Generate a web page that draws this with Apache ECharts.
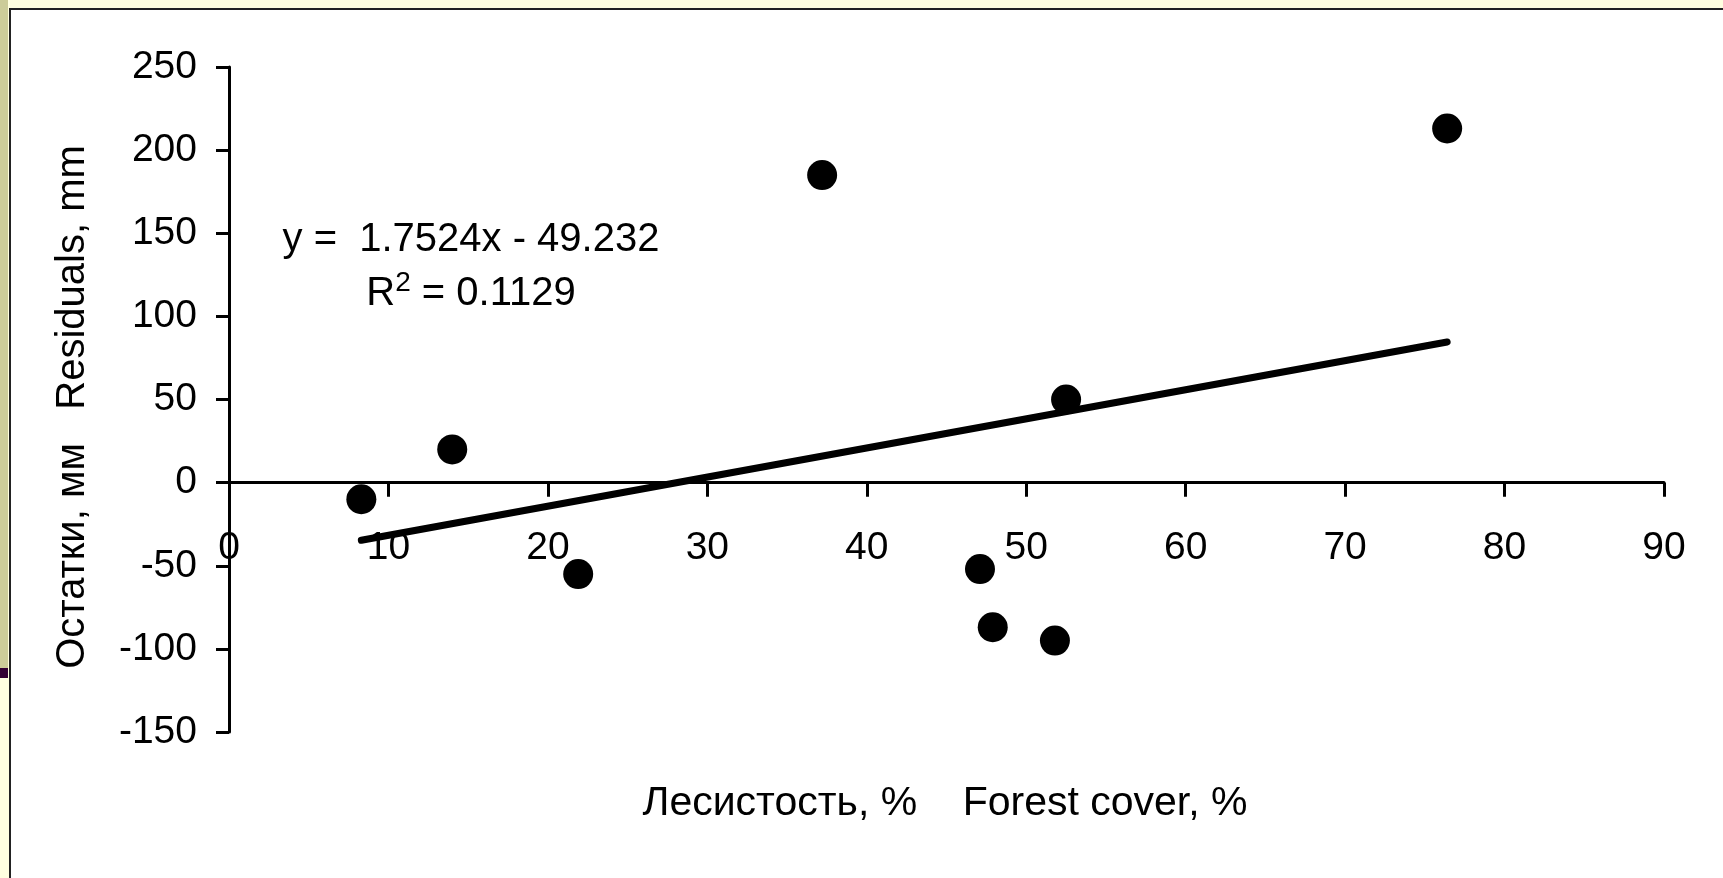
<!DOCTYPE html>
<html>
<head>
<meta charset="utf-8">
<script src="https://cdn.jsdelivr.net/npm/echarts@6/dist/echarts.min.js"></script>
<style>
  html, body { margin: 0; padding: 0; width: 1723px; height: 878px; overflow: hidden; background: #FFFFE0; }
  #olive { position: absolute; left: 0; top: 0; width: 8px; height: 668px; background: #CCCC99; }
  #purple { position: absolute; left: 0; top: 668px; width: 8px; height: 10px; background: #330033; }
  #panel { position: absolute; left: 9px; top: 8px; right: 0; bottom: 0; background: #FFFFFF;
           border-left: 2px solid #222; border-top: 2px solid #222; }
  #chart { position: absolute; left: 0; top: 0; width: 1723px; height: 878px; }
</style>
</head>
<body>
<div id="olive"></div>
<div id="purple"></div>
<div id="panel"></div>
<div id="chart"></div>
<script>
// Data
const forestCover = [8.3, 14.0, 21.9, 37.2, 47.1, 47.9, 51.8, 52.5, 76.4];
const residuals   = [-10, 20, -55, 185, -52, -87, -95, 50, 213];
// Linear trendline endpoints (y = 1.7524x - 49.232) over the data range
const trendX = [8.3, 76.4];
const trendY = [-34.7, 84.6];
const xTicks = { min: 0, max: 90, interval: 10 };
const yTicks = { min: -150, max: 250, interval: 50 };
const equationText = 'y =  1.7524x - 49.232';
const r2Value = '0.1129';
const xTitle = 'Лесистость, %    Forest cover, %';
const yTitle = 'Остатки, мм   Residuals, mm';

const FONT = '"Liberation Sans", Arial, sans-serif';
const chart = echarts.init(document.getElementById('chart'), null, { renderer: 'canvas' });

const GRID_TOP = 67, GRID_BOTTOM = 146, H = 878;
// place the x axis at y = 0 (line, ticks and labels together)
const plotH = H - GRID_TOP - GRID_BOTTOM;
const zeroOffset = -plotH * (0 - yTicks.min) / (yTicks.max - yTicks.min);

chart.setOption({
  animation: false,
  backgroundColor: 'transparent',
  grid: { left: 229, right: 59, top: GRID_TOP, bottom: GRID_BOTTOM, containLabel: false },
  xAxis: {
    type: 'value', min: xTicks.min, max: xTicks.max, interval: xTicks.interval,
    offset: zeroOffset,
    axisLine: { show: true, onZero: false, lineStyle: { color: '#000', width: 3 } },
    axisTick: { show: true, inside: false, length: 14, lineStyle: { color: '#000', width: 3 } },
    axisLabel: { color: '#000', fontSize: 39, fontFamily: FONT, margin: 46 },
    splitLine: { show: false }
  },
  yAxis: {
    type: 'value', min: yTicks.min, max: yTicks.max, interval: yTicks.interval,
    axisLine: { show: true, onZero: false, lineStyle: { color: '#000', width: 3 } },
    axisTick: { show: true, inside: false, length: 13, lineStyle: { color: '#000', width: 3 } },
    axisLabel: { color: '#000', fontSize: 39, fontFamily: FONT, margin: 32 },
    splitLine: { show: false }
  },
  series: [
    {
      type: 'line',
      data: trendX.map((x, i) => [x, trendY[i]]),
      showSymbol: false,
      symbol: 'none',
      lineStyle: { color: '#000', width: 7, cap: 'round' },
      z: 2
    },
    {
      type: 'scatter',
      data: forestCover.map((x, i) => [x, residuals[i]]),
      symbol: 'circle',
      symbolSize: 30,
      itemStyle: { color: '#000', opacity: 1 },
      z: 3
    }
  ],
  graphic: [
    {
      type: 'text', x: 471, y: 240,
      style: { text: equationText, fill: '#000', font: '40px ' + FONT, textAlign: 'center', textVerticalAlign: 'middle' }
    },
    {
      type: 'text', x: 471, y: 294,
      style: {
        text: '{a|R}{b|2}{a| = ' + r2Value + '}',
        textAlign: 'center', textVerticalAlign: 'middle',
        rich: {
          a: { fontSize: 40, fontFamily: FONT, color: '#000', lineHeight: 46 },
          b: { fontSize: 28, fontFamily: FONT, color: '#000', lineHeight: 46, padding: [0, 0, 22, 0] }
        }
      }
    },
    {
      type: 'text', x: 945, y: 804,
      style: { text: xTitle, fill: '#000', font: '41px ' + FONT, textAlign: 'center', textVerticalAlign: 'middle' }
    },
    {
      type: 'text', x: 73, y: 407, rotation: Math.PI / 2,
      style: { text: yTitle, fill: '#000', font: '40px ' + FONT, textAlign: 'center', textVerticalAlign: 'middle' }
    }
  ]
});
</script>
</body>
</html>
